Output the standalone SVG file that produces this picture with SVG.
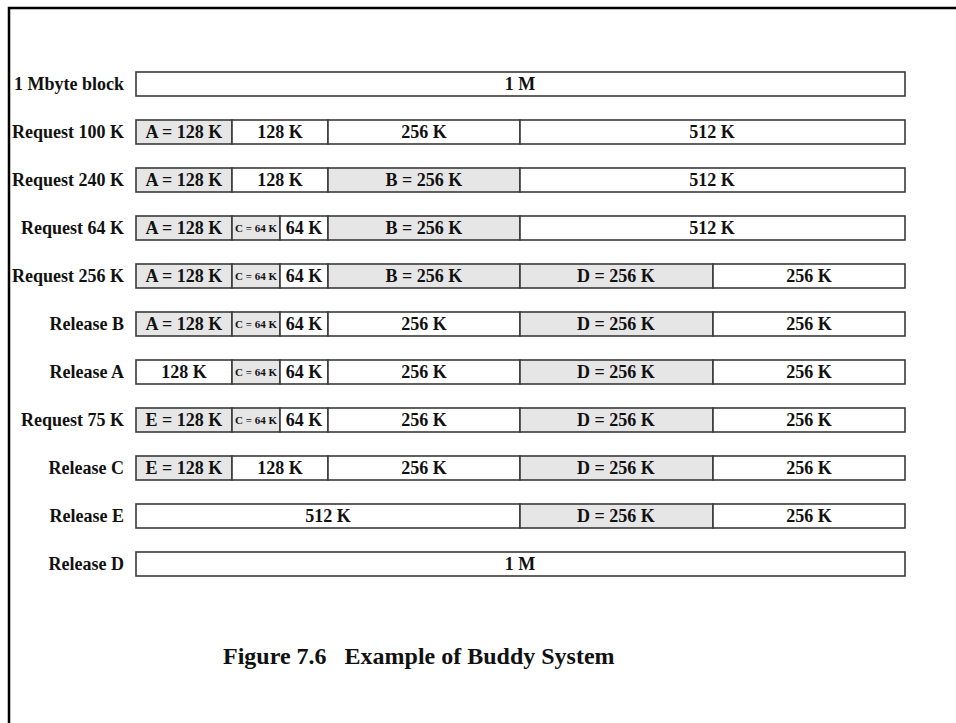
<svg xmlns="http://www.w3.org/2000/svg" width="956" height="723" viewBox="0 0 956 723">
<style>
.bg{fill:#ffffff}
.frame{fill:none;stroke:#000;stroke-width:2.5}
.f{fill:#ffffff;stroke:#3a3a3a;stroke-width:1.6}
.u{fill:#e6e6e6;stroke:#3a3a3a;stroke-width:1.6}
text{font-family:"Liberation Serif","Times New Roman",serif;font-weight:bold;fill:#111}
.lbl{font-size:18px;text-anchor:end}
.t{font-size:18px;text-anchor:middle}
.s{font-size:11px;text-anchor:middle}
.cap{font-size:24px}
</style>
<rect class="bg" x="0" y="0" width="956" height="723"/>
<path class="frame" d="M9,723 V8 H956"/>

<g id="row1">
<text class="lbl" x="124" y="90">1 Mbyte block</text>
<rect class="f" x="136" y="72" width="769" height="24"/>
<text class="t" x="520" y="90">1 M</text>
</g>

<g id="row2">
<text class="lbl" x="124" y="138">Request 100 K</text>
<rect class="u" x="136" y="120" width="96" height="24"/>
<text class="t" x="184" y="138">A = 128 K</text>
<rect class="f" x="232" y="120" width="96" height="24"/>
<text class="t" x="280" y="138">128 K</text>
<rect class="f" x="328" y="120" width="192" height="24"/>
<text class="t" x="424" y="138">256 K</text>
<rect class="f" x="520" y="120" width="385" height="24"/>
<text class="t" x="712" y="138">512 K</text>
</g>

<g id="row3">
<text class="lbl" x="124" y="186">Request 240 K</text>
<rect class="u" x="136" y="168" width="96" height="24"/>
<text class="t" x="184" y="186">A = 128 K</text>
<rect class="f" x="232" y="168" width="96" height="24"/>
<text class="t" x="280" y="186">128 K</text>
<rect class="u" x="328" y="168" width="192" height="24"/>
<text class="t" x="424" y="186">B = 256 K</text>
<rect class="f" x="520" y="168" width="385" height="24"/>
<text class="t" x="712" y="186">512 K</text>
</g>

<g id="row4">
<text class="lbl" x="124" y="234">Request 64 K</text>
<rect class="u" x="136" y="216" width="96" height="24"/>
<text class="t" x="184" y="234">A = 128 K</text>
<rect class="u" x="232" y="216" width="48" height="24"/>
<text class="s" x="256" y="232">C = 64 K</text>
<rect class="f" x="280" y="216" width="48" height="24"/>
<text class="t" x="304" y="234">64 K</text>
<rect class="u" x="328" y="216" width="192" height="24"/>
<text class="t" x="424" y="234">B = 256 K</text>
<rect class="f" x="520" y="216" width="385" height="24"/>
<text class="t" x="712" y="234">512 K</text>
</g>

<g id="row5">
<text class="lbl" x="124" y="282">Request 256 K</text>
<rect class="u" x="136" y="264" width="96" height="24"/>
<text class="t" x="184" y="282">A = 128 K</text>
<rect class="u" x="232" y="264" width="48" height="24"/>
<text class="s" x="256" y="280">C = 64 K</text>
<rect class="f" x="280" y="264" width="48" height="24"/>
<text class="t" x="304" y="282">64 K</text>
<rect class="u" x="328" y="264" width="192" height="24"/>
<text class="t" x="424" y="282">B = 256 K</text>
<rect class="u" x="520" y="264" width="193" height="24"/>
<text class="t" x="616" y="282">D = 256 K</text>
<rect class="f" x="713" y="264" width="192" height="24"/>
<text class="t" x="809" y="282">256 K</text>
</g>

<g id="row6">
<text class="lbl" x="124" y="330">Release B</text>
<rect class="u" x="136" y="312" width="96" height="24"/>
<text class="t" x="184" y="330">A = 128 K</text>
<rect class="u" x="232" y="312" width="48" height="24"/>
<text class="s" x="256" y="328">C = 64 K</text>
<rect class="f" x="280" y="312" width="48" height="24"/>
<text class="t" x="304" y="330">64 K</text>
<rect class="f" x="328" y="312" width="192" height="24"/>
<text class="t" x="424" y="330">256 K</text>
<rect class="u" x="520" y="312" width="193" height="24"/>
<text class="t" x="616" y="330">D = 256 K</text>
<rect class="f" x="713" y="312" width="192" height="24"/>
<text class="t" x="809" y="330">256 K</text>
</g>

<g id="row7">
<text class="lbl" x="124" y="378">Release A</text>
<rect class="f" x="136" y="360" width="96" height="24"/>
<text class="t" x="184" y="378">128 K</text>
<rect class="u" x="232" y="360" width="48" height="24"/>
<text class="s" x="256" y="376">C = 64 K</text>
<rect class="f" x="280" y="360" width="48" height="24"/>
<text class="t" x="304" y="378">64 K</text>
<rect class="f" x="328" y="360" width="192" height="24"/>
<text class="t" x="424" y="378">256 K</text>
<rect class="u" x="520" y="360" width="193" height="24"/>
<text class="t" x="616" y="378">D = 256 K</text>
<rect class="f" x="713" y="360" width="192" height="24"/>
<text class="t" x="809" y="378">256 K</text>
</g>

<g id="row8">
<text class="lbl" x="124" y="426">Request 75 K</text>
<rect class="u" x="136" y="408" width="96" height="24"/>
<text class="t" x="184" y="426">E = 128 K</text>
<rect class="u" x="232" y="408" width="48" height="24"/>
<text class="s" x="256" y="424">C = 64 K</text>
<rect class="f" x="280" y="408" width="48" height="24"/>
<text class="t" x="304" y="426">64 K</text>
<rect class="f" x="328" y="408" width="192" height="24"/>
<text class="t" x="424" y="426">256 K</text>
<rect class="u" x="520" y="408" width="193" height="24"/>
<text class="t" x="616" y="426">D = 256 K</text>
<rect class="f" x="713" y="408" width="192" height="24"/>
<text class="t" x="809" y="426">256 K</text>
</g>

<g id="row9">
<text class="lbl" x="124" y="474">Release C</text>
<rect class="u" x="136" y="456" width="96" height="24"/>
<text class="t" x="184" y="474">E = 128 K</text>
<rect class="f" x="232" y="456" width="96" height="24"/>
<text class="t" x="280" y="474">128 K</text>
<rect class="f" x="328" y="456" width="192" height="24"/>
<text class="t" x="424" y="474">256 K</text>
<rect class="u" x="520" y="456" width="193" height="24"/>
<text class="t" x="616" y="474">D = 256 K</text>
<rect class="f" x="713" y="456" width="192" height="24"/>
<text class="t" x="809" y="474">256 K</text>
</g>

<g id="row10">
<text class="lbl" x="124" y="522">Release E</text>
<rect class="f" x="136" y="504" width="384" height="24"/>
<text class="t" x="328" y="522">512 K</text>
<rect class="u" x="520" y="504" width="193" height="24"/>
<text class="t" x="616" y="522">D = 256 K</text>
<rect class="f" x="713" y="504" width="192" height="24"/>
<text class="t" x="809" y="522">256 K</text>
</g>

<g id="row11">
<text class="lbl" x="124" y="570">Release D</text>
<rect class="f" x="136" y="552" width="769" height="24"/>
<text class="t" x="520" y="570">1 M</text>
</g>

<g id="connectors"></g>

<text class="cap" x="223" y="664" xml:space="preserve">Figure 7.6   Example of Buddy System</text>
</svg>
